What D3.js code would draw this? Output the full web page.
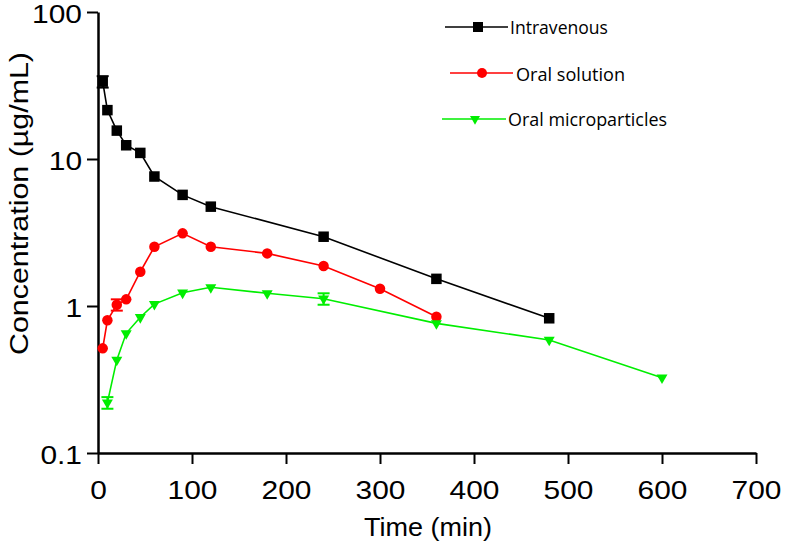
<!DOCTYPE html>
<html>
<head>
<meta charset="utf-8">
<script src="https://cdn.jsdelivr.net/npm/d3@7/dist/d3.min.js"></script>
<style>
  html, body { margin: 0; padding: 0; background: #fff; }
  svg { display: block; }
</style>
</head>
<body>
<svg id="chart" width="786" height="547"></svg>
<script>
// ---- data ----
const xTicks = [0, 100, 200, 300, 400, 500, 600, 700];
const yTicks = [0.1, 1, 10, 100];
const yTickLabels = ["0.1", "1", "10", "100"];

const seriesNames = ["Intravenous", "Oral solution", "Oral microparticles"];

const timeIV = [5, 10, 20, 30, 45, 60, 90, 120, 240, 360, 480];
const concIV = [33.6, 21.5, 15.6, 12.4, 11.0, 7.6, 5.7, 4.74, 2.96, 1.53, 0.825];
const errIV  = [3.0, 0, 0, 0, 0, 0, 0, 0, 0, 0, 0];

const timeOS = [5, 10, 20, 30, 45, 60, 90, 120, 180, 240, 300, 360];
const concOS = [0.515, 0.80, 1.02, 1.11, 1.71, 2.53, 3.12, 2.53, 2.28, 1.87, 1.31, 0.846];
const errOS  = [0, 0, 0.09, 0, 0, 0, 0, 0, 0, 0, 0, 0];

const timeOM = [10, 20, 30, 45, 60, 90, 120, 180, 240, 360, 480, 600];
const concOM = [0.22, 0.43, 0.652, 0.838, 1.03, 1.23, 1.34, 1.22, 1.12, 0.762, 0.587, 0.325];
const errOM  = [0.02, 0, 0, 0, 0, 0, 0, 0, 0.1, 0, 0, 0];

// ---- layout ----
const svg = d3.select("#chart");
const x = d3.scaleLinear().domain([0, 700]).range([98, 756]);
const y = d3.scaleLog().domain([0.1, 100]).range([453, 12]);

const series = [
  { name: seriesNames[0], t: timeIV, c: concIV, e: errIV, color: "#000000", sym: "square" },
  { name: seriesNames[1], t: timeOS, c: concOS, e: errOS, color: "#ff0000", sym: "circle" },
  { name: seriesNames[2], t: timeOM, c: concOM, e: errOM, color: "#00ee00", sym: "triangle" }
];

function drawMarker(g, sym, color, size) {
  if (sym === "square") {
    g.append("rect").attr("x", -size / 2).attr("y", -size / 2)
      .attr("width", size).attr("height", size).attr("fill", color);
  } else if (sym === "circle") {
    g.append("circle").attr("r", size / 2).attr("fill", color);
  } else {
    const area = Math.sqrt(3) / 4 * size * size;
    g.append("path").attr("d", d3.symbol().type(d3.symbolTriangle).size(area)())
      .attr("transform", "rotate(180)").attr("fill", color);
  }
}

// ---- axes ----
const stretch = 1.15;
const xAxis = svg.append("g").attr("transform", "translate(0,453)")
  .call(d3.axisBottom(x).tickValues(xTicks).tickSize(11).tickSizeOuter(0).tickFormat(d3.format("d")));
const yAxis = svg.append("g").attr("transform", "translate(98,0)")
  .call(d3.axisLeft(y).tickValues(yTicks).tickSize(11).tickSizeOuter(0)
    .tickFormat((d, i) => yTickLabels[i]));

[xAxis, yAxis].forEach(a => {
  a.select(".domain").attr("stroke", "#000").attr("stroke-width", 2.5);
  a.selectAll(".tick line").attr("stroke", "#000").attr("stroke-width", 2);
  a.selectAll(".tick text")
    .attr("fill", "#000")
    .style("font-family", "'Liberation Sans', Arial, sans-serif")
    .style("font-size", "26px");
});
xAxis.selectAll(".tick text").attr("dy", null).attr("y", 46);
yAxis.selectAll(".tick text").attr("dy", null).attr("x", -16).attr("y", 10);
svg.selectAll(".tick text").each(function () {
  const L = this.getComputedTextLength();
  d3.select(this).attr("textLength", L * stretch).attr("lengthAdjust", "spacingAndGlyphs");
});

// axis titles
svg.append("text")
  .attr("x", 428).attr("y", 536)
  .attr("text-anchor", "middle")
  .style("font-family", "'Liberation Sans', Arial, sans-serif")
  .style("font-size", "25px")
  .attr("textLength", 128).attr("lengthAdjust", "spacingAndGlyphs")
  .text("Time (min)");

svg.append("text")
  .attr("transform", "translate(28,203.5) rotate(-90)")
  .attr("text-anchor", "middle")
  .style("font-family", "'Liberation Sans', Arial, sans-serif")
  .style("font-size", "25px")
  .attr("textLength", 303).attr("lengthAdjust", "spacingAndGlyphs")
  .text("Concentration (\u00B5g/mL)");

// ---- series ----
const line = d3.line().x(d => x(d.t)).y(d => y(d.c));
series.forEach(s => {
  const pts = s.t.map((t, i) => ({ t: t, c: s.c[i], e: s.e[i] }));
  svg.append("path").datum(pts)
    .attr("d", line).attr("fill", "none")
    .attr("stroke", s.color).attr("stroke-width", 1.6);
  // error bars
  pts.filter(p => p.e > 0).forEach(p => {
    const cx = x(p.t), y1 = y(p.c + p.e), y2 = y(p.c - p.e);
    const g = svg.append("g").attr("stroke", s.color).attr("stroke-width", 2);
    g.append("line").attr("x1", cx).attr("x2", cx).attr("y1", y1).attr("y2", y2);
    g.append("line").attr("x1", cx - 6).attr("x2", cx + 6).attr("y1", y1).attr("y2", y1);
    g.append("line").attr("x1", cx - 6).attr("x2", cx + 6).attr("y1", y2).attr("y2", y2);
  });
  pts.forEach(p => {
    const g = svg.append("g").attr("transform", `translate(${x(p.t)},${y(p.c)})`);
    drawMarker(g, s.sym, s.color, s.sym === "triangle" ? 11 : 10.5);
  });
});

// ---- legend ----
const legendItems = [
  { x1: 445, x2: 508, y: 27, mx: 478, tx: 510, ty: 34, tl: 98 },
  { x1: 450, x2: 513, y: 73, mx: 482, tx: 516, ty: 81, tl: 109 },
  { x1: 442, x2: 506, y: 119, mx: 475, tx: 508, ty: 126, tl: 159 }
];
series.forEach((s, i) => {
  const L = legendItems[i];
  svg.append("line").attr("x1", L.x1).attr("x2", L.x2).attr("y1", L.y).attr("y2", L.y)
    .attr("stroke", s.color).attr("stroke-width", 1.6);
  const g = svg.append("g").attr("transform", `translate(${L.mx},${L.y})`);
  drawMarker(g, s.sym, s.color, 10);
  svg.append("text").attr("x", L.tx).attr("y", L.ty)
    .style("font-family", "'Open Sans', 'Noto Sans', sans-serif")
    .style("font-size", "18px")
    .attr("textLength", L.tl).attr("lengthAdjust", "spacingAndGlyphs")
    .text(s.name);
});
</script>
</body>
</html>
